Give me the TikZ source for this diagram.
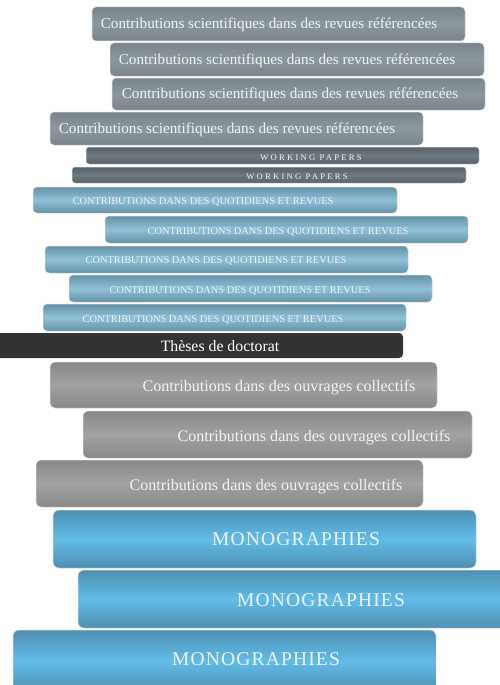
\documentclass[tikz,border=0pt]{standalone}
\usepackage{fontspec}
\setmainfont{Liberation Serif}
\newfontfamily\wpfont[LetterSpace=26]{Liberation Serif}
\newfontfamily\monofnt[LetterSpace=6]{Liberation Serif}
\definecolor{sciE}{HTML}{78838A}
\definecolor{sciM}{HTML}{8C979E}
\definecolor{wpE}{HTML}{566268}
\definecolor{wpM}{HTML}{6E7A80}
\definecolor{cdqE}{HTML}{6491A8}
\definecolor{cdqM}{HTML}{8EC1D8}
\definecolor{thes}{HTML}{333333}
\definecolor{cocE}{HTML}{888888}
\definecolor{cocM}{HTML}{A2A2A2}
\definecolor{monoE}{HTML}{4E8FB1}
\definecolor{monoM}{HTML}{62BCE8}
\definecolor{txt}{HTML}{EEF2F4}
\newcommand\bk[6]{\node[#2, minimum width={(#5-#3)*1pt}, minimum height={(#6-#4)*1pt}] (#1) at ({(#3+#5)/2},{(#4+#6)/2}) {};}
\tikzset{
  book/.style={rectangle, rounded corners=4pt, inner sep=0pt, draw=white!70!gray, line width=0.5pt},
  sci/.style={book, top color=sciE, bottom color=sciE, middle color=sciM},
  wp/.style={book, rounded corners=3pt, top color=wpE, bottom color=wpE, middle color=wpM},
  cdq/.style={book, top color=cdqE, bottom color=cdqE, middle color=cdqM},
  thesb/.style={book, fill=thes, draw=none},
  coc/.style={book, rounded corners=5pt, top color=cocE, bottom color=cocE, middle color=cocM},
  mono/.style={book, rounded corners=6pt, top color=monoE, bottom color=monoE, middle color=monoM},
  lbl/.style={inner sep=0pt, text=txt, anchor=base},
  scit/.style={lbl, font=\fontsize{15.2}{18}\selectfont},
  wpt/.style={lbl, font=\wpfont\fontsize{8.6}{10}\selectfont},
  cdqt/.style={lbl, font=\fontsize{10.4}{12}\selectfont},
  thest/.style={lbl, text=white, font=\fontsize{15.8}{18}\selectfont},
  coct/.style={lbl, font=\fontsize{16.1}{19}\selectfont},
  monot/.style={lbl, font=\monofnt\fontsize{19.5}{22}\selectfont},
}
\begin{document}
\begin{tikzpicture}[x=1pt,y=-1pt]
\useasboundingbox (0,0) rectangle (500,685);
\fill[white] (0,0) rectangle (500,685);
% scientific
\bk{s1}{sci}{92}{7}{465}{41}
\bk{s2}{sci}{110}{43}{484}{76}
\bk{s3}{sci}{112}{78}{485}{110}
\bk{s4}{sci}{50}{112}{423}{145}
\node[scit] (ts1) at (269,29) {Contributions scientifiques dans des revues référencées};
\node[scit] (ts2) at (287,64) {Contributions scientifiques dans des revues référencées};
\node[scit] (ts3) at (290,98.5) {Contributions scientifiques dans des revues référencées};
\node[scit] (ts4) at (227,133) {Contributions scientifiques dans des revues référencées};
% working papers
\bk{w1}{wp}{86}{147}{479}{164}
\bk{w2}{wp}{72}{167}{466}{183}
\node[wpt] (tw1) at (311,160) {WORKING PAPERS};
\node[wpt] (tw2) at (297,179) {WORKING PAPERS};
% quotidiens
\bk{q1}{cdq}{33}{187}{397}{213}
\bk{q2}{cdq}{105}{216}{468}{243}
\bk{q3}{cdq}{45}{246}{408}{273}
\bk{q4}{cdq}{69}{275}{432}{302}
\bk{q5}{cdq}{43}{304}{406}{331}
\node[cdqt] (tq1) at (203,204.5) {CONTRIBUTIONS DANS DES QUOTIDIENS ET REVUES};
\node[cdqt] (tq2) at (278,234) {CONTRIBUTIONS DANS DES QUOTIDIENS ET REVUES};
\node[cdqt] (tq3) at (216,263.5) {CONTRIBUTIONS DANS DES QUOTIDIENS ET REVUES};
\node[cdqt] (tq4) at (240,293) {CONTRIBUTIONS DANS DES QUOTIDIENS ET REVUES};
\node[cdqt] (tq5) at (213,322.5) {CONTRIBUTIONS DANS DES QUOTIDIENS ET REVUES};
% theses
\bk{th}{thesb}{-6}{333}{403}{358}
\node[thest] (tth) at (220,351) {Thèses de doctorat};
% ouvrages collectifs
\bk{c1}{coc}{50}{362}{437}{408}
\bk{c2}{coc}{83}{411}{472}{458}
\bk{c3}{coc}{36}{460}{423}{507}
\node[coct] (tc1) at (279,391) {Contributions dans des ouvrages collectifs};
\node[coct] (tc2) at (314,441) {Contributions dans des ouvrages collectifs};
\node[coct] (tc3) at (266,490.5) {Contributions dans des ouvrages collectifs};
% monographies
\bk{m1}{mono}{53}{510}{476}{568}
\bk{m2}{mono}{78}{570}{508}{628}
\bk{m3}{mono}{13}{630}{436}{692}
\node[monot] (tm1) at (296,545.7) {MONOGRAPHIES};
\node[monot] (tm2) at (321,606) {MONOGRAPHIES};
\node[monot] (tm3) at (256,665) {MONOGRAPHIES};
\end{tikzpicture}
\end{document}
